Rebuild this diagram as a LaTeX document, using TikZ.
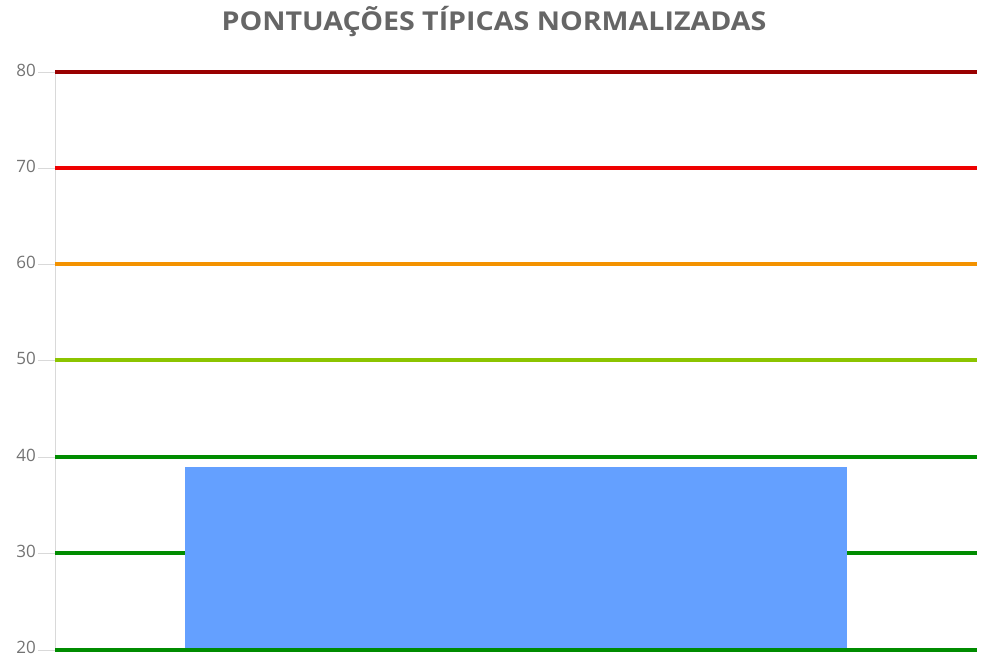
\documentclass[tikz,border=0pt]{standalone}
\usepackage{fontspec}
\setmainfont{Open Sans}
\definecolor{txtgray}{HTML}{666666}
\definecolor{lblgray}{HTML}{737373}
\definecolor{axisgray}{HTML}{D9D9D9}
\definecolor{c80}{HTML}{990000}
\definecolor{c70}{HTML}{EE0000}
\definecolor{c60}{HTML}{F39200}
\definecolor{c50}{HTML}{8CC400}
\definecolor{c40}{HTML}{008C00}
\definecolor{barblue}{HTML}{64A0FF}
\begin{document}
\begin{tikzpicture}[x=1pt,y=-1pt,
  gridline/.style={line width=4pt},
  tickline/.style={draw=axisgray,line width=1pt},
  ticklabel/.style={anchor=east,text=lblgray,font=\fontsize{17}{17}\selectfont,inner sep=0pt},
  titlestyle/.style={text=txtgray,font=\fontsize{26}{26}\selectfont\bfseries,inner sep=0pt}]
\useasboundingbox (0,0) rectangle (986,657);
\node[titlestyle] (title) at (494,22) {\scalebox{1.1}[1]{PONTUAÇÕES TÍPICAS NORMALIZADAS}};
% axis
\draw[tickline] (55,72) -- (55,650);
\foreach \v/\y/\c/\dy in {80/72/c80/1.5,70/168/c70/1.5,60/264/c60/1.5,50/360/c50/1.5,40/457/c40/1.5,30/553/c40/1.5,20/650/c40/2.5}{
  \draw[tickline] (38,\y) -- (55,\y);
  \node[ticklabel] (l\v) at (36,\y-\dy) {\v};
  \draw[gridline,draw=\c] (55,\y) -- (977,\y);
}
\fill[barblue] (185,467) rectangle (847,648);
\draw[gridline,draw=c40] (55,650) -- (185,650);
\draw[gridline,draw=c40] (847,650) -- (977,650);
\end{tikzpicture}
\end{document}
